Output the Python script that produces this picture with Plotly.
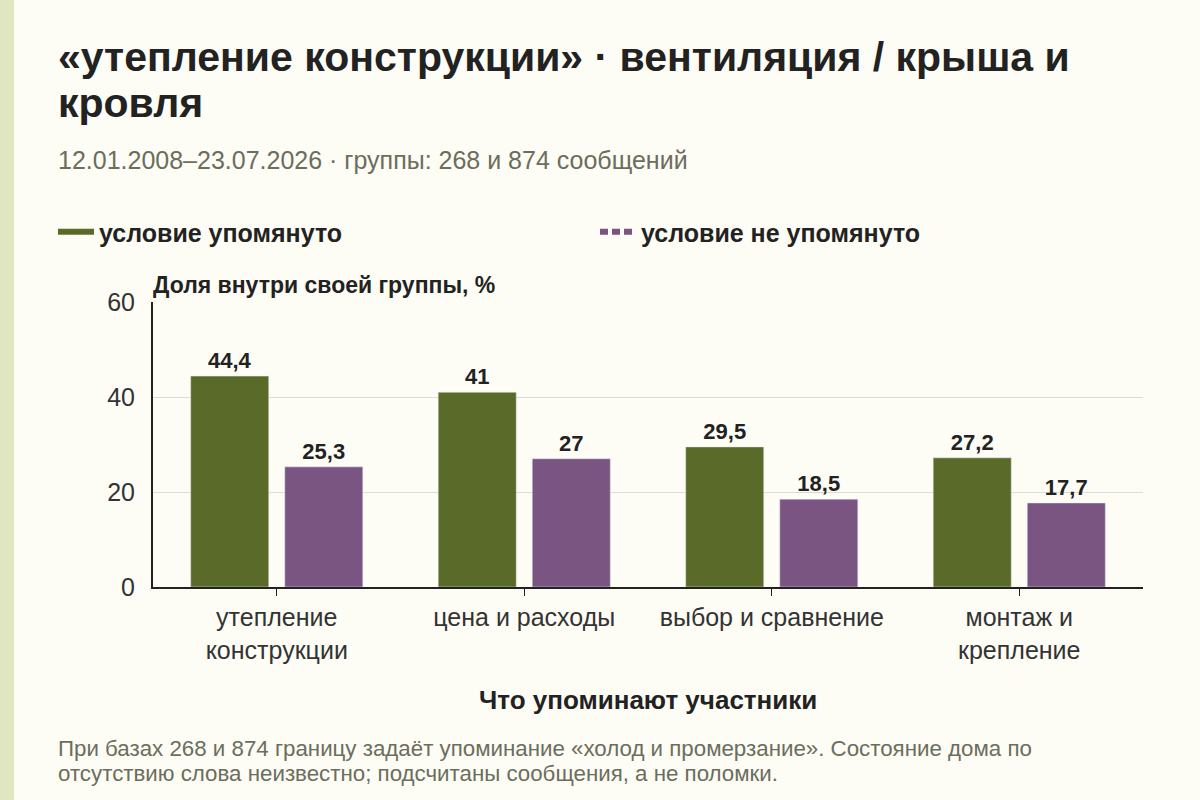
import plotly.graph_objects as go

categories = ["утепление<br>конструкции", "цена и расходы", "выбор и сравнение", "монтаж и<br>крепление"]
mentioned = [44.4, 41.0, 29.5, 27.2]
not_mentioned = [25.3, 27.0, 18.5, 17.7]
series_names = ["условие упомянуто", "условие не упомянуто"]
y_ticks = [0, 20, 40, 60]

title_lines = ["«утепление конструкции» · вентиляция / крыша и", "кровля"]
subtitle = "12.01.2008–23.07.2026 · группы: 268 и 874 сообщений"
y_title = "Доля внутри своей группы, %"
x_title = "Что упоминают участники"
note_lines = ["При базах 268 и 874 границу задаёт упоминание «холод и промерзание». Состояние дома по",
              "отсутствию слова неизвестно; подсчитаны сообщения, а не поломки."]

GREEN = "#5a6b29"
PURPLE = "#7a5582"
BG = "#fdfcf5"
DARK = "#222222"
MUTED = "#6b6e5c"
FONT = "Liberation Sans, Arial, sans-serif"

W, H = 1200, 800
L, R, T, B = 153, 57, 302, 213


def px_x(x):
    return (x - L) / (W - L - R)


def px_y(y):
    return (H - B - y) / (H - T - B)


def lbl(v):
    return f"{v:g}".replace(".", ",")


fig = go.Figure()
fig.add_trace(go.Bar(x=categories, y=mentioned, marker_color=GREEN, showlegend=False,
                     text=[lbl(v) for v in mentioned], textposition="outside", cliponaxis=False))
fig.add_trace(go.Bar(x=categories, y=not_mentioned, marker_color=PURPLE, showlegend=False,
                     text=[lbl(v) for v in not_mentioned], textposition="outside", cliponaxis=False))

# legend keys, one legend per entry so each can sit where the reference has it
fig.add_trace(go.Scatter(x=[None], y=[None], mode="lines", name=series_names[0],
                         line=dict(color=GREEN, width=6), legend="legend"))
fig.add_trace(go.Scatter(x=[None], y=[None], mode="lines", name=series_names[1],
                         line=dict(color=PURPLE, width=6, dash="8px,4px"), legend="legend2"))

fig.update_traces(selector=dict(type="bar"),
                  textfont=dict(size=22, color=DARK, family=FONT, weight="bold"))

legend_style = dict(xref="container", yref="container", xanchor="left", yanchor="middle",
                    itemwidth=36, font=dict(size=25, weight="bold", color=DARK),
                    bgcolor="rgba(0,0,0,0)")

fig.update_layout(
    width=W, height=H,
    margin=dict(l=L, r=R, t=T, b=B, autoexpand=False),
    paper_bgcolor=BG, plot_bgcolor=BG,
    font=dict(family=FONT, color=DARK, size=25),
    barmode="group", bargap=0.24, bargroupgap=0.17,
    legend=dict(x=53 / W, y=1 - 232 / H, **legend_style),
    legend2=dict(x=595 / W, y=1 - 232 / H, **legend_style),
    xaxis=dict(showline=True, linecolor=DARK, linewidth=2, ticks="outside",
               ticklen=7, tickcolor=DARK, tickangle=0, tickfont=dict(size=25, color="#333333")),
    yaxis=dict(range=[0, 60], tickvals=y_ticks, showline=True, linecolor=DARK,
               linewidth=2, gridcolor="#dcdcd4", gridwidth=1, zeroline=False,
               tickfont=dict(size=25, color="#333333"), ticks="", ticklabelstandoff=11),
)

for i, line in enumerate(title_lines):
    fig.add_annotation(text=line, xref="paper", yref="paper", x=px_x(56), y=px_y(57 + 46 * i),
                       xanchor="left", yanchor="middle", showarrow=False,
                       font=dict(size=41, weight="bold", color=DARK))
fig.add_annotation(text=subtitle, xref="paper", yref="paper", x=px_x(56), y=px_y(160),
                   xanchor="left", yanchor="middle", showarrow=False,
                   font=dict(size=25, color=MUTED))
fig.add_annotation(text=y_title, xref="paper", yref="paper", x=px_x(151), y=px_y(285),
                   xanchor="left", yanchor="middle", showarrow=False,
                   font=dict(size=23, weight="bold", color=DARK))
fig.add_annotation(text=x_title, xref="paper", yref="paper", x=0.5, y=px_y(700),
                   xanchor="center", yanchor="middle", showarrow=False,
                   font=dict(size=26, weight="bold", color=DARK))
for i, line in enumerate(note_lines):
    fig.add_annotation(text=line, xref="paper", yref="paper", x=px_x(56), y=px_y(748 + 25 * i),
                       xanchor="left", yanchor="middle", showarrow=False,
                       font=dict(size=22.3, color=MUTED))

fig.add_shape(type="rect", xref="paper", yref="paper", x0=px_x(0), x1=px_x(14),
              y0=px_y(0), y1=px_y(H), fillcolor="#dfe6c0", line_width=0, layer="below")

fig.write_html("out.html", config={"displayModeBar": False},
               post_script="document.body.style.margin='0';")
